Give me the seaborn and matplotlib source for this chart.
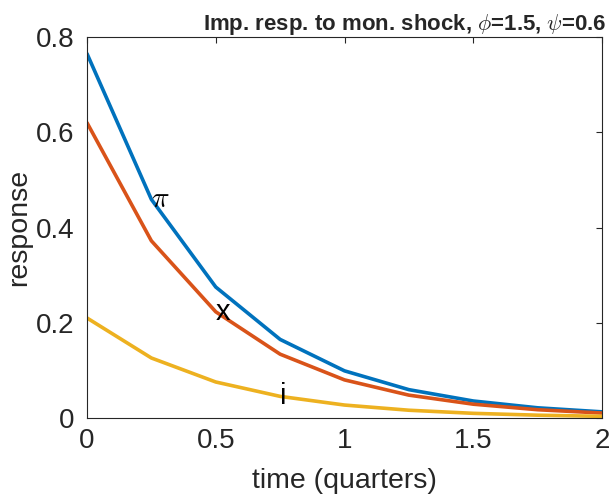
import matplotlib
matplotlib.use("Agg")
import matplotlib.pyplot as plt
import seaborn as sns
import pandas as pd

time = [0, 0.25, 0.5, 0.75, 1.0, 1.25, 1.5, 1.75, 2.0]
pi_resp = [0.765, 0.459, 0.275, 0.165, 0.099, 0.0595, 0.0357, 0.0214, 0.0129]
x_resp = [0.620, 0.372, 0.223, 0.134, 0.080, 0.048, 0.029, 0.0174, 0.0104]
i_resp = [0.210, 0.126, 0.0756, 0.0454, 0.0272, 0.0163, 0.0098, 0.0059, 0.0035]
series_names = ["pi", "x", "i"]
series_labels = [r"$\pi$", "x", "i"]
label_index = [1, 2, 3]
colors = ["#0072BD", "#D95319", "#EDB120"]

sns.set_theme(style="white")
plt.rcParams["font.family"] = ["Liberation Sans", "DejaVu Sans"]
plt.rcParams["mathtext.fontset"] = "cm"

df = pd.DataFrame({
    "time": time * 3,
    "response": pi_resp + x_resp + i_resp,
    "series": [n for n in series_names for _ in time],
})

fig = plt.figure(figsize=(6.14, 5.0), dpi=100)
ax = fig.add_axes([0.1417, 0.164, 0.8388, 0.762])
sns.lineplot(data=df, x="time", y="response", hue="series", palette=colors,
             hue_order=series_names, linewidth=2.6, legend=False, ax=ax)

for lab, vals, k in zip(series_labels, [pi_resp, x_resp, i_resp], label_index):
    ax.text(time[k], vals[k], lab, ha="left", va="center", fontsize=21, color="black")

ax.set_xlim(0, 2)
ax.set_ylim(0, 0.8)
ax.set_xticks([0, 0.5, 1, 1.5, 2])
ax.set_xticklabels(["0", "0.5", "1", "1.5", "2"])
ax.set_yticks([0, 0.2, 0.4, 0.6, 0.8])
ax.set_yticklabels(["0", "0.2", "0.4", "0.6", "0.8"])
ax.tick_params(direction="in", length=4, width=0.8, colors="#262626",
               labelsize=20, top=True, right=True)
ax.tick_params(axis="x", pad=7)
ax.tick_params(axis="y", pad=9)
for s in ax.spines.values():
    s.set_color("#262626")
    s.set_linewidth(0.8)
ax.set_xlabel("time (quarters)", fontsize=20.5, color="#262626", labelpad=10)
ax.set_ylabel("response", fontsize=20.5, color="#262626", labelpad=3)
ax.set_title(r"Imp. resp. to mon. shock, $\phi$=1.5, $\psi$=0.6",
             fontsize=16, fontweight="bold", pad=5, x=0.617)

fig.savefig("out.png", dpi=100)
